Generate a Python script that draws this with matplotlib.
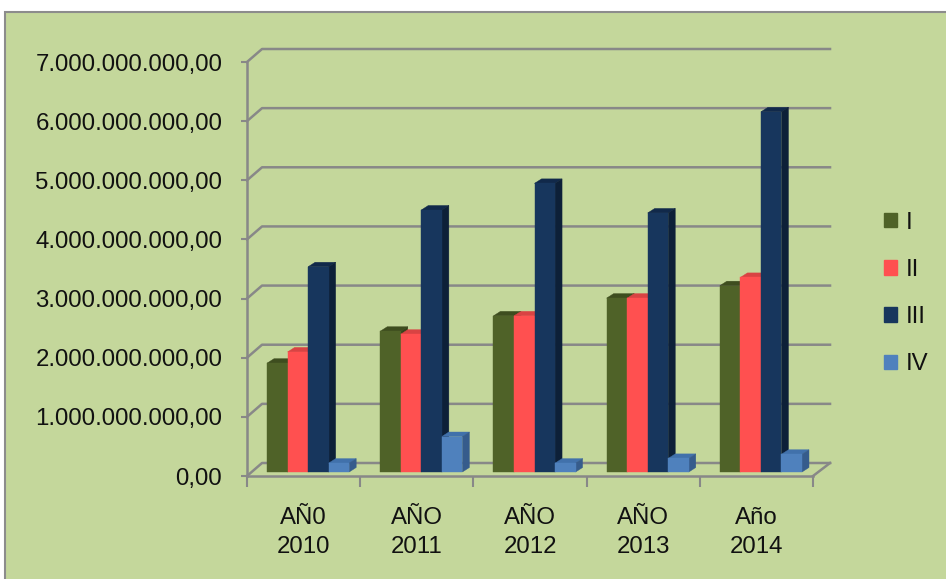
import matplotlib.pyplot as plt
from matplotlib.patches import Polygon, Rectangle, Patch
from matplotlib.lines import Line2D

# -----------------------
# data
# -----------------------
categories = ["AÑ0\n2010", "AÑO\n2011", "AÑO\n2012", "AÑO\n2013", "Año\n2014"]
series_names = ["I", "II", "III", "IV"]
serie_i = [1.84e9, 2.38e9, 2.64e9, 2.94e9, 3.15e9]
serie_ii = [2.03e9, 2.33e9, 2.64e9, 2.94e9, 3.29e9]
serie_iii = [3.47e9, 4.43e9, 4.88e9, 4.38e9, 6.09e9]
serie_iv = [0.15e9, 0.60e9, 0.15e9, 0.23e9, 0.30e9]
y_ticks = [0, 1e9, 2e9, 3e9, 4e9, 5e9, 6e9, 7e9]

front_colors = ["#4F6228", "#FF5050", "#17365D", "#4F81BD"]
top_colors = ["#3E4D1F", "#D94343", "#11294A", "#4171AB"]
side_colors = ["#37441B", "#C23B3B", "#0D2038", "#365C8C"]

GREEN = "#C4D79B"
GRID = "#888888"
FS = 17.3

plt.rcParams["font.family"] = ["Liberation Sans", "DejaVu Sans"]

W, H = 946, 579
fig = plt.figure(figsize=(W / 100, H / 100), dpi=100)
fig.patch.set_facecolor("white")

# chart area background with grey border
fig.add_artist(Rectangle((5 / W, -0.1), 1.2, 1 - 12 / H + 0.1, transform=fig.transFigure,
                         facecolor=GREEN, edgecolor="#8C8C8C", linewidth=1.5, zorder=0))

# front plane of the 3d box
ax = fig.add_axes([247 / W, 1 - 476 / H, 566 / W, 414 / H])
ax.set_facecolor("none")
ax.set_xlim(-0.5, len(categories) - 0.5)
ax.set_ylim(0, 7e9)

# pixel -> data helpers
PX = 1.0 / 113
PY = 1e9 / 59.14
wall_dx, floor_dx, depth_dy = 15 * PX, 17 * PX, 13 * PY

x_left, x_right = -0.5, len(categories) - 0.5

# back wall gridlines + left wall diagonals
for t in y_ticks:
    ax.add_line(Line2D([x_left, x_left + wall_dx, x_right + floor_dx], [t, t + depth_dy, t + depth_dy],
                       color=GRID, lw=1.8, clip_on=False, zorder=1))
# floor right edge
ax.add_line(Line2D([x_right, x_right + floor_dx], [0, depth_dy], color=GRID, lw=1.8, clip_on=False, zorder=1))

for s in ["top", "right"]:
    ax.spines[s].set_visible(False)
for s in ["left", "bottom"]:
    ax.spines[s].set_color(GRID)
    ax.spines[s].set_linewidth(1.8)
    ax.spines[s].set_zorder(1)

# -----------------------
# bars
# -----------------------
all_series = [serie_i, serie_ii, serie_iii, serie_iv]
bw = 20.5 * PX
base = 4 * PY
ddx, ddy = 7 * PX, 4.5 * PY

for k, vals in enumerate(all_series):
    lefts = [i - 0.5 + 20 * PX + k * bw for i in range(len(categories))]
    ax.bar(lefts, vals, width=bw, bottom=base, align="edge", color=front_colors[k],
           edgecolor=front_colors[k], linewidth=0.3, zorder=3 + k, clip_on=False)
    for x0, v in zip(lefts, vals):
        top = base + v
        ax.add_patch(Polygon([(x0, top), (x0 + bw, top), (x0 + bw + ddx, top + ddy), (x0 + ddx, top + ddy)],
                             closed=True, facecolor=top_colors[k], edgecolor=top_colors[k], lw=0.3,
                             zorder=2.9 + k, clip_on=False))
        ax.add_patch(Polygon([(x0 + bw, base), (x0 + bw, top), (x0 + bw + ddx, top + ddy), (x0 + bw + ddx, base + ddy)],
                             closed=True, facecolor=side_colors[k], edgecolor=side_colors[k], lw=0.3,
                             zorder=2.9 + k, clip_on=False))

# -----------------------
# axes / ticks
# -----------------------
ax.set_yticks(y_ticks)
ax.set_yticklabels([f"{t:,.2f}".replace(",", "X").replace(".", ",").replace("X", ".") for t in y_ticks])
ax.tick_params(axis="y", length=4.3, width=1.5, color=GRID, pad=13.5, labelsize=FS, labelcolor="#111111")

ax.set_xticks([i - 0.5 for i in range(len(categories) + 1)])
ax.set_xticklabels([])
ax.tick_params(axis="x", which="major", direction="out", length=8, width=1.5, color=GRID)
ax.set_xticks(range(len(categories)), minor=True)
ax.set_xticklabels(categories, minor=True, fontsize=FS, color="#111111", linespacing=1.45)
ax.tick_params(axis="x", which="minor", length=0, pad=22)

handles = [Patch(facecolor=c, edgecolor=c) for c in front_colors]
fig.legend(handles, series_names, loc="center left", bbox_to_anchor=(884 / W, 1 - 293.5 / H),
           frameon=False, fontsize=FS, handlelength=0.55, handleheight=0.55, handletextpad=0.35,
           labelspacing=1.05, borderpad=0, borderaxespad=0, labelcolor="#111111")

fig.savefig("out.png", dpi=100, facecolor=fig.get_facecolor())
